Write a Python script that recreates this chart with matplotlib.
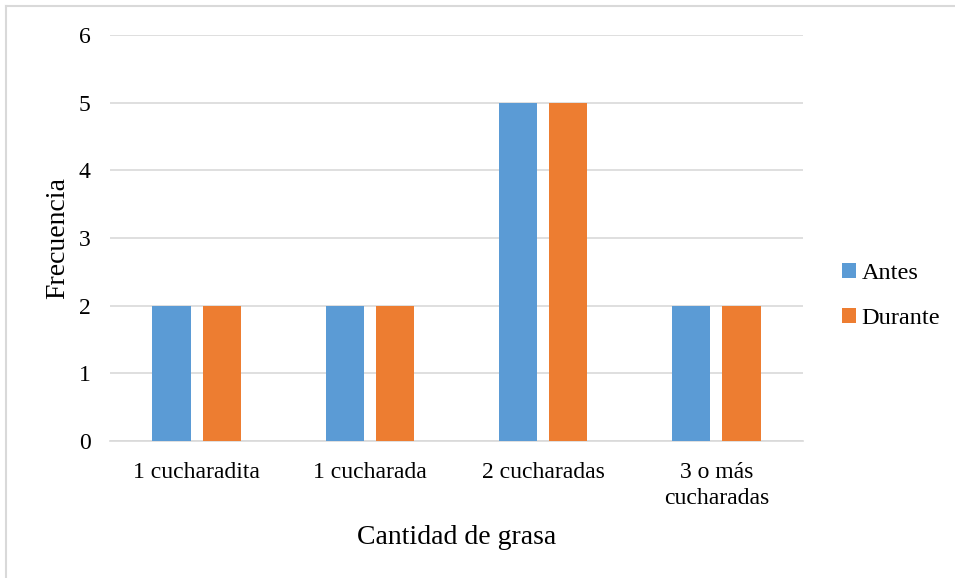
import matplotlib
matplotlib.use("Agg")
import matplotlib.pyplot as plt
import numpy as np
from matplotlib.lines import Line2D

categories = ["1 cucharadita", "1 cucharada", "2 cucharadas", "3 o más\ncucharadas"]
antes = [2, 2, 5, 2]
durante = [2, 2, 5, 2]
yticks = [0, 1, 2, 3, 4, 5, 6]

plt.rcParams['font.family'] = ['Liberation Serif', 'DejaVu Serif']

fig = plt.figure(figsize=(9.55, 5.78), dpi=100)
ax = fig.add_axes([110/955, 1-441/578, 693/955, 406/578])

x = np.arange(len(categories))
w = 0.22
off = 0.145
ax.bar(x - off, antes, w, color="#5B9BD5", label="Antes", zorder=3)
ax.bar(x + off, durante, w, color="#ED7D31", label="Durante", zorder=3)

ax.set_xlim(-0.5, 3.5)
ax.set_ylim(0, 6)
ax.set_yticks(yticks)
ax.set_xticks(x)
ax.set_xticklabels(categories, fontsize=17, linespacing=1.3)
ax.tick_params(axis='y', labelsize=17, length=0, pad=14)
ax.tick_params(axis='x', length=0, pad=15)
ax.grid(axis='y', color="#D9D9D9", linewidth=1.2, zorder=0)
for s in ['top', 'right', 'left']:
    ax.spines[s].set_visible(False)
ax.spines['bottom'].set_color("#D9D9D9")
ax.spines['bottom'].set_linewidth(1.2)
ax.set_ylabel("Frecuencia", fontsize=20, labelpad=6)
ax.set_xlabel("Cantidad de grasa", fontsize=20, labelpad=12)

leg = ax.legend(loc='center left', bbox_to_anchor=((830 - 110) / 693, (441 - 296) / 406),
                frameon=False, fontsize=17.5, handlelength=0.55, handleheight=0.55,
                handletextpad=0.25, labelspacing=1.0, borderpad=0)

fig.add_artist(Line2D([6/955, 6/955], [0, 1 - 6/578], transform=fig.transFigure,
                      color="#D9D9D9", linewidth=1.5))
fig.add_artist(Line2D([6/955, 1], [1 - 6/578, 1 - 6/578], transform=fig.transFigure,
                      color="#D9D9D9", linewidth=1.5))

fig.savefig("out.png", dpi=100)
